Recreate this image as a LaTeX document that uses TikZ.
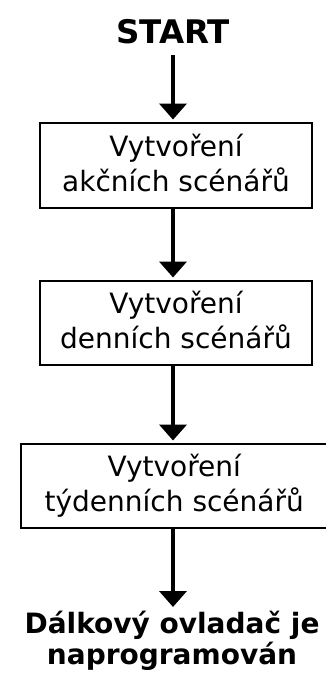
\documentclass[tikz,border=0pt]{standalone}
\usepackage{fontspec}
\setmainfont{DejaVu Sans}
\usetikzlibrary{arrows.meta}
\begin{document}
\begin{tikzpicture}[x=1pt,y=-1pt,
  stepbox/.style={draw, line width=2pt, inner sep=0pt, align=center, text depth=6pt, font=\fontsize{28}{35}\selectfont},
  term/.style={font=\fontsize{28}{31}\selectfont\bfseries, inner sep=0pt, align=center},
  flow/.style={line width=4.5pt, -{Triangle[width=27pt,length=16pt]}, shorten >=2.5pt}]
\useasboundingbox (0,0) rectangle (326,673);
\node[font=\fontsize{32.5}{36}\selectfont\bfseries, anchor=base, inner sep=0pt, outer sep=12pt] (start) at (173,43) {START};
\node[stepbox, minimum width=272pt, minimum height=85pt] (b1) at (176,165.5) {Vytvoření\\akčních scénářů};
\node[stepbox, minimum width=272pt, minimum height=84pt] (b2) at (176,323) {Vytvoření\\denních scénářů};
\node[stepbox, minimum width=306.5pt, minimum height=84pt] (b3) at (174.25,486) {Vytvoření\\týdenních scénářů};
\node[term, anchor=north] (end) at (172,611) {Dálkový ovladač je\\naprogramován};
\draw[flow] (start.south) -- (start.south |- b1.north);
\draw[flow] (b1.south -| start.south) -- (start.south |- b2.north);
\draw[flow] (b2.south -| start.south) -- (start.south |- b3.north);
\draw[flow, shorten >=4pt] (b3.south -| start.south) -- (start.south |- end.north);
\end{tikzpicture}
\end{document}
